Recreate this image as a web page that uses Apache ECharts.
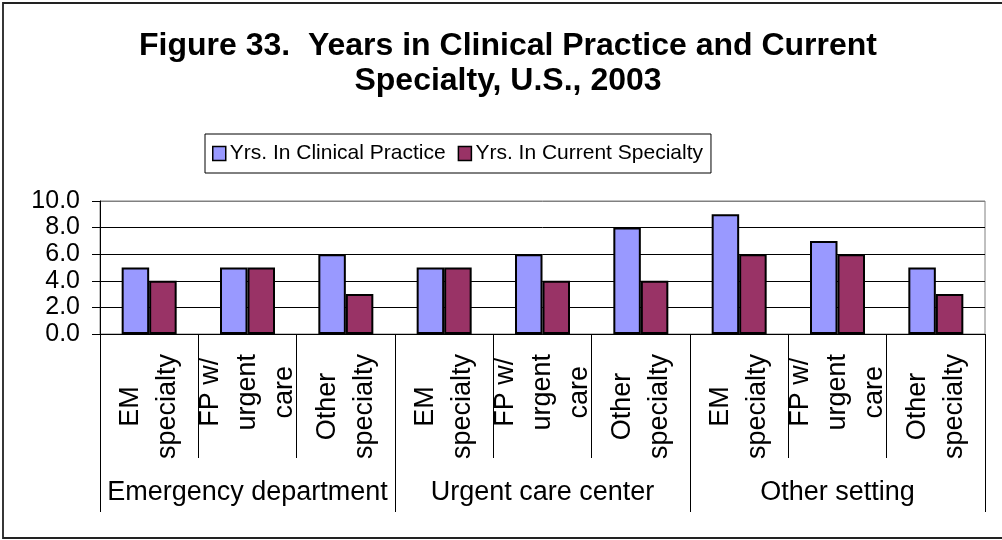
<!DOCTYPE html>
<html>
<head>
<meta charset="utf-8">
<title>Years in Clinical Practice and Current Specialty</title>
<script src="https://cdn.jsdelivr.net/npm/echarts@6/dist/echarts.min.js"></script>
<style>
  html, body { margin: 0; padding: 0; background: #fff; }
  #chart { width: 1002px; height: 540px; }
</style>
</head>
<body>
<div id="chart"></div>
<script>
// Practice settings (outer axis level) and specialties (inner axis level)
var settings = ['Emergency department', 'Urgent care center', 'Other setting'];
var specialties = ['EM\nspecialty', 'FP w/\nurgent\ncare', 'Other\nspecialty'];

// Mean years, one value per setting x specialty, in axis order
var yrsClinicalPractice = [5, 5, 6, 5, 6, 8, 9, 7, 5];
var yrsCurrentSpecialty = [4, 5, 3, 5, 4, 4, 6, 6, 3];

// Value axis range
var yMin = 0, yMax = 10, yStep = 2;

var seriesNames = ['Yrs. In Clinical Practice', 'Yrs. In Current Specialty'];

var categories = [];
settings.forEach(function (s) {
  specialties.forEach(function (sp) { categories.push(sp); });
});

var FONT = 'Arial, "Liberation Sans", Helvetica, sans-serif';

var chart = echarts.init(document.getElementById('chart'), null, { renderer: 'canvas' });

chart.setOption({
  backgroundColor: '#ffffff',
  animation: false,
  title: {
    text: 'Figure 33.  Years in Clinical Practice and Current\nSpecialty, U.S., 2003',
    left: 503,
    top: 24,
    textAlign: 'center',
    textStyle: {
      fontFamily: FONT,
      fontWeight: 'bold',
      fontSize: 32,
      lineHeight: 35,
      color: '#000'
    }
  },
  legend: {
    data: seriesNames,
    left: 205,
    top: 134,
    orient: 'horizontal',
    icon: 'rect',
    itemWidth: 13,
    itemHeight: 14,
    itemGap: 12,
    padding: [9, 8, 9, 7],
    borderColor: '#000',
    borderWidth: 1,
    itemStyle: { borderColor: '#000', borderWidth: 1.5 },
    textStyle: { fontFamily: FONT, fontSize: 21, color: '#000', padding: [0, 0, 0, -1] }
  },
  // Chart frame: top, left and bottom edges (open on the right)
  graphic: [{
    type: 'polyline',
    silent: true,
    shape: { points: [[1010, 3], [3, 3], [3, 538], [1010, 538]] },
    style: { fill: null, stroke: '#222', lineWidth: 1.8 }
  }],
  grid: {
    left: 100,
    right: 17,
    top: 201,
    bottom: 206,
    show: true,
    borderColor: '#808080',
    borderWidth: 1,
    containLabel: false
  },
  xAxis: [{
    type: 'category',
    data: categories,
    position: 'bottom',
    boundaryGap: true,
    axisLine: { show: true, lineStyle: { color: '#000', width: 1 } },
    axisTick: { show: true, interval: 0, length: 124, lineStyle: { color: '#000', width: 1 } },
    axisLabel: {
      interval: 0,
      rotate: 90,
      margin: 20,
      color: '#000',
      formatter: function (v) {
        return v.split('\n').map(function (s) { return '{c|' + s + '}'; }).join('\n');
      },
      rich: {
        c: { align: 'center', fontFamily: FONT, fontSize: 27, lineHeight: 37, color: '#000' }
      }
    },
    splitLine: { show: false }
  }, {
    type: 'category',
    data: settings,
    position: 'bottom',
    boundaryGap: true,
    axisLine: { show: false },
    axisTick: { show: true, interval: 0, length: 178, lineStyle: { color: '#000', width: 1 } },
    axisLabel: {
      interval: 0,
      margin: 145,
      fontFamily: FONT,
      fontSize: 27,
      color: '#000'
    },
    splitLine: { show: false }
  }],
  yAxis: {
    type: 'value',
    min: yMin,
    max: yMax,
    interval: yStep,
    axisLine: { show: true, lineStyle: { color: '#000', width: 1 } },
    axisTick: { show: true, inside: false, length: 8, lineStyle: { color: '#000' } },
    axisLabel: {
      margin: 20,
      fontFamily: FONT,
      fontSize: 25,
      color: '#000',
      formatter: function (v) { return v.toFixed(1); }
    },
    splitLine: {
      show: true,
      lineStyle: { color: ['#000', '#000', '#000', '#000', '#000', '#808080'], width: 1 }
    }
  },
  series: [{
    name: seriesNames[0],
    type: 'bar',
    xAxisIndex: 0,
    data: yrsClinicalPractice,
    barWidth: 27.5,
    barGap: '0%',
    itemStyle: { color: '#9999FF', borderColor: '#000', borderWidth: 2 }
  }, {
    name: seriesNames[1],
    type: 'bar',
    xAxisIndex: 0,
    data: yrsCurrentSpecialty,
    barWidth: 27.5,
    barGap: '0%',
    itemStyle: { color: '#993366', borderColor: '#000', borderWidth: 2 }
  }]
});
</script>
</body>
</html>
